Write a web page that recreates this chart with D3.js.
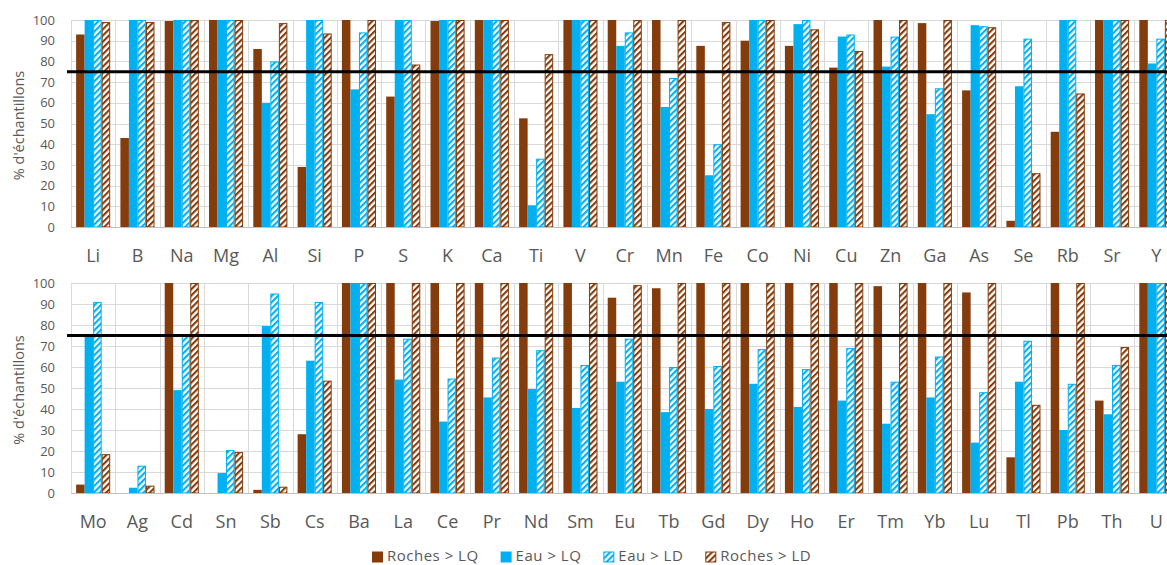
<!DOCTYPE html>
<html>
<head>
<meta charset="utf-8">
<script src="https://cdn.jsdelivr.net/npm/d3@7"></script>
<style>
  html, body { margin: 0; padding: 0; background: #fff; }
  svg { display: block; font-family: "Open Sans", "DejaVu Sans", sans-serif; }
</style>
</head>
<body>
<svg id="chart" width="1167" height="565"></svg>
<script>
// ---------- DATA ----------
const seriesNames = ["Roches > LQ", "Eau > LQ", "Eau > LD", "Roches > LD"];

const categoriesTop = ["Li","B","Na","Mg","Al","Si","P","S","K","Ca","Ti","V","Cr","Mn","Fe","Co","Ni","Cu","Zn","Ga","As","Se","Rb","Sr","Y"];
const rochesLQTop = [93, 43, 99.5, 100, 86, 29, 100, 63, 99.5, 100, 52.5, 100, 100, 100, 87.5, 90, 87.5, 77, 100, 98.5, 66, 3, 46, 100, 100];
const eauLQTop    = [100, 100, 100, 100, 60, 100, 66.5, 100, 100, 100, 10.5, 100, 87.5, 58, 25, 100, 98, 92, 77.5, 54.5, 97.5, 68, 100, 100, 79];
const eauLDTop    = [100, 100, 100, 100, 80, 100, 94, 100, 100, 100, 33, 100, 94, 72, 40, 100, 100, 93, 92, 67, 97, 91, 100, 100, 91];
const rochesLDTop = [99, 99, 100, 100, 98.5, 93.5, 100, 78.5, 100, 100, 83.5, 100, 100, 100, 99, 100, 95.5, 85, 100, 100, 96.5, 26, 64.5, 100, 100];

const categoriesBottom = ["Mo","Ag","Cd","Sn","Sb","Cs","Ba","La","Ce","Pr","Nd","Sm","Eu","Tb","Gd","Dy","Ho","Er","Tm","Yb","Lu","Tl","Pb","Th","U"];
const rochesLQBottom = [4, 0, 100, 0, 1.5, 28, 100, 100, 100, 100, 100, 100, 93, 97.5, 100, 100, 100, 100, 98.5, 100, 95.5, 17, 100, 44, 100];
const eauLQBottom    = [75, 2.5, 49, 9.5, 79.5, 63, 100, 54, 34, 45.5, 49.5, 40.5, 53, 38.5, 40, 52, 41, 44, 33, 45.5, 24, 53, 30, 37.5, 100];
const eauLDBottom    = [91, 13, 75, 20.5, 95, 91, 100, 73.5, 54.5, 64.5, 68, 61, 73.5, 60, 60.5, 68.5, 59, 69, 53, 65, 48, 72.5, 52, 61, 100];
const rochesLDBottom = [18.5, 3.5, 100, 19.5, 3, 53.5, 100, 100, 100, 100, 100, 100, 99, 100, 100, 100, 100, 100, 100, 100, 100, 42, 100, 69.5, 100];

const yTicks = [0,10,20,30,40,50,60,70,80,90,100];
const threshold = 75;
const yTitle = "% d'échantillons";

// ---------- STYLE ----------
const BROWN = "#843C0C";
const BLUE = "#00B0F0";
const GRID = "#D9D9D9";
const TEXT = "#595959";

const svg = d3.select("#chart");
const defs = svg.append("defs");

function hatch(id, color) {
  const p = defs.append("pattern")
    .attr("id", id)
    .attr("patternUnits", "userSpaceOnUse")
    .attr("width", 4.4).attr("height", 4.4)
    .attr("patternTransform", "rotate(45)");
  p.append("rect").attr("width", 4.4).attr("height", 4.4).attr("fill", "#fff");
  p.append("rect").attr("x", 0).attr("width", 2.1).attr("height", 4.4).attr("fill", color);
}
hatch("hatchBlue", BLUE);
hatch("hatchBrown", BROWN);

const seriesStyle = [
  { fill: BROWN, stroke: "none" },
  { fill: BLUE, stroke: "none" },
  { fill: "url(#hatchBlue)", stroke: BLUE },
  { fill: "url(#hatchBrown)", stroke: BROWN }
];

const xLeft = 71, step = 44.3;

function panel(cats, seriesArrays, yTopPx, yBottomPx, labelOffset) {
  const g = svg.append("g");
  const x = d3.scaleBand().domain(cats).range([xLeft, xLeft + step * cats.length]).padding(0);
  const xs = d3.scaleBand().domain(seriesNames).range([0, x.bandwidth()]).paddingInner(0).paddingOuter(0.6);
  const y = d3.scaleLinear().domain([0, 100]).range([yBottomPx, yTopPx]);

  // horizontal gridlines
  g.append("g").selectAll("line").data(yTicks).join("line")
    .attr("x1", xLeft).attr("x2", xLeft + step * cats.length)
    .attr("y1", d => Math.round(y(d)) + 0.5).attr("y2", d => Math.round(y(d)) + 0.5)
    .attr("stroke", GRID).attr("stroke-width", 1);
  // vertical gridlines at category boundaries
  const bounds = cats.map(c => x(c)).concat([x.range()[1]]);
  g.append("g").selectAll("line").data(bounds).join("line")
    .attr("x1", d => Math.round(d) + 0.5).attr("x2", d => Math.round(d) + 0.5)
    .attr("y1", y(100)).attr("y2", y(0))
    .attr("stroke", GRID).attr("stroke-width", 1);

  // bars
  const data = [];
  cats.forEach((c, i) => seriesArrays.forEach((arr, s) => data.push({ c, s, v: arr[i] })));
  g.append("g").selectAll("rect").data(data.filter(d => d.v > 0)).join("rect")
    .attr("x", d => x(d.c) + xs(seriesNames[d.s]) + (seriesStyle[d.s].stroke !== "none" ? 0.5 : 0))
    .attr("y", d => y(d.v) + (seriesStyle[d.s].stroke !== "none" ? 0.5 : 0))
    .attr("width", d => xs.bandwidth() - (seriesStyle[d.s].stroke !== "none" ? 1 : 0))
    .attr("height", d => y(0) - y(d.v) - (seriesStyle[d.s].stroke !== "none" ? 0.5 : 0))
    .attr("fill", d => seriesStyle[d.s].fill)
    .attr("stroke", d => seriesStyle[d.s].stroke)
    .attr("stroke-width", 1);

  // bottom axis line
  g.append("line")
    .attr("x1", xLeft).attr("x2", xLeft + step * cats.length)
    .attr("y1", Math.round(y(0)) + 0.5).attr("y2", Math.round(y(0)) + 0.5)
    .attr("stroke", "#BFBFBF").attr("stroke-width", 1);

  // threshold line
  g.append("line")
    .attr("x1", 67).attr("x2", 1167)
    .attr("y1", y(threshold)).attr("y2", y(threshold))
    .attr("stroke", "#000").attr("stroke-width", 3);

  // y axis
  const ya = g.append("g").attr("transform", `translate(${xLeft},0)`)
    .call(d3.axisLeft(y).tickValues(yTicks).tickSize(0).tickPadding(16));
  ya.select(".domain").remove();
  ya.selectAll("text").attr("fill", TEXT).style("font-size", "13px")
    .style("font-family", '"Open Sans", sans-serif');

  // x axis
  const xa = g.append("g").attr("transform", `translate(0,${y(0)})`)
    .call(d3.axisBottom(x).tickSize(0).tickPadding(labelOffset));
  xa.select(".domain").remove();
  xa.selectAll("text").attr("fill", TEXT).style("font-size", "18px")
    .style("font-family", '"Open Sans", sans-serif');

  // y title
  g.append("text")
    .attr("transform", `translate(19,${(y(0) + y(100)) / 2 + 2}) rotate(-90)`)
    .attr("text-anchor", "middle").attr("dy", "0.35em")
    .attr("fill", TEXT).style("font-size", "14.5px")
    .text(yTitle);
}

panel(categoriesTop, [rochesLQTop, eauLQTop, eauLDTop, rochesLDTop], 20, 227, 22.5);
panel(categoriesBottom, [rochesLQBottom, eauLQBottom, eauLDBottom, rochesLDBottom], 283, 493, 22);

// legend
const legend = svg.append("g").attr("transform", "translate(372,557.5)");
let lx = 0;
seriesNames.forEach((name, i) => {
  const item = legend.append("g").attr("transform", `translate(${lx},0)`);
  const st = seriesStyle[i];
  item.append("rect")
    .attr("x", st.stroke !== "none" ? 0.5 : 0).attr("y", st.stroke !== "none" ? -5.5 : -6)
    .attr("width", st.stroke !== "none" ? 10 : 11).attr("height", st.stroke !== "none" ? 10 : 11)
    .attr("fill", st.fill).attr("stroke", st.stroke).attr("stroke-width", 1);
  const t = item.append("text").attr("x", 15).attr("y", 3.3)
    .attr("fill", TEXT).style("font-size", "15px").style("letter-spacing", "0.5px").text(name);
  lx += 15 + t.node().getComputedTextLength() + 22;
});
</script>
</body>
</html>
